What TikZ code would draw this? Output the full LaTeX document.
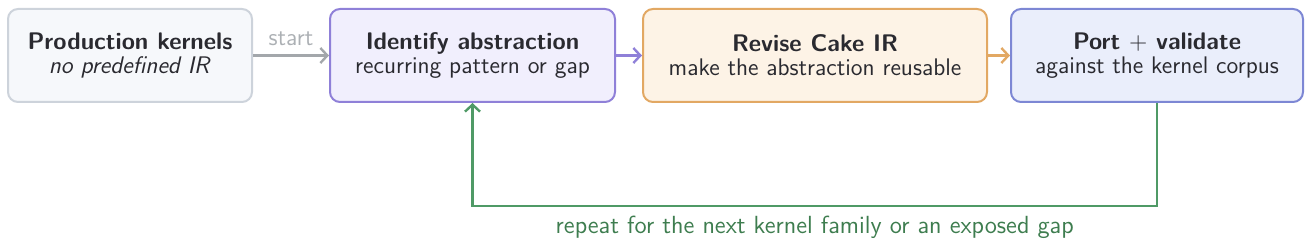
\documentclass[tikz,border=0pt]{standalone}
\usetikzlibrary{arrows.meta}
\renewcommand{\familydefault}{\sfdefault}
\definecolor{txt}{HTML}{2A2A30}
\definecolor{grayb}{HTML}{CDD3DB}
\definecolor{grayf}{HTML}{F6F8FB}
\definecolor{grayarrow}{HTML}{A3A7AB}
\definecolor{purpleb}{HTML}{8F80D8}
\definecolor{purplef}{HTML}{F1EFFD}
\definecolor{orangeb}{HTML}{E2A863}
\definecolor{orangef}{HTML}{FDF3E6}
\definecolor{blueb}{HTML}{7D87D4}
\definecolor{bluef}{HTML}{EAEEFB}
\definecolor{greenl}{HTML}{4F9A66}
\definecolor{greent}{HTML}{3E7D4F}
\tikzset{
  stepbox/.style={draw, rounded corners=5pt, line width=1pt, minimum height=46.5pt,
    align=center, text=txt, font=\fontsize{12}{12}\selectfont\sffamily, inner sep=0pt},
  flow/.style={line width=1.2pt, -{Straight Barb[length=3.5pt,width=7.5pt,line width=1.2pt]}},
  lbl/.style={font=\fontsize{12}{12}\selectfont\sffamily},
  looplbl/.style={font=\fontsize{12.4}{12.4}\selectfont\sffamily},
}
\begin{document}
\begin{tikzpicture}[x=0.5pt,y=-0.5pt]
\path[use as bounding box] (0,0) rectangle (1306,240);
\node[stepbox, draw=grayb, fill=grayf, minimum width=122pt] (n1) at (130,55.5)
  {\textbf{Production kernels}\\\textit{no predefined IR}};
\node[stepbox, draw=purpleb, fill=purplef, minimum width=142.5pt] (n2) at (472.5,55.5)
  {\textbf{Identify abstraction}\\recurring pattern or gap};
\node[stepbox, draw=orangeb, fill=orangef, minimum width=172pt] (n3) at (815,55.5)
  {\textbf{Revise Cake IR}\\make the abstraction reusable};
\node[stepbox, draw=blueb, fill=bluef, minimum width=146pt] (n4) at (1157,55.5)
  {\textbf{Port $+$ validate}\\against the kernel corpus};
\draw[flow, draw=grayarrow] (n1) -- node[lbl, above=1pt, text=grayarrow!90] {start} (n2);
\draw[flow, draw=purpleb] (n2) -- (n3);
\draw[flow, draw=orangeb] (n3) -- (n4);
\coordinate (c1) at (1157,206);
\coordinate (c2) at (472.5,206);
\draw[flow, draw=greenl] (n4.south) -- (c1) -- node[looplbl, below=1pt, text=greent] {repeat for the next kernel family or an exposed gap} (c2) -- (n2.south);
\end{tikzpicture}
\end{document}
